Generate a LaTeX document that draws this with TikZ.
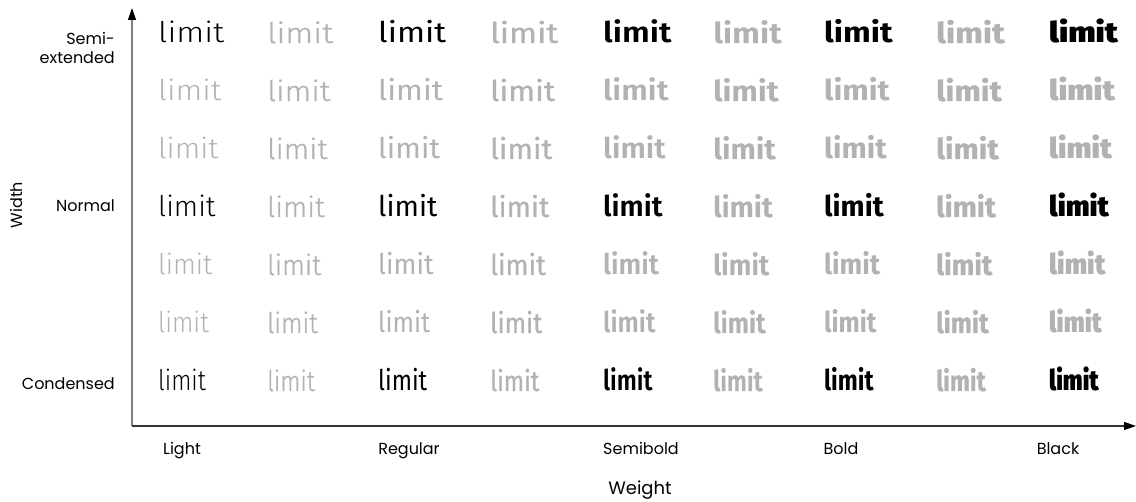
\documentclass[tikz,border=0pt]{standalone}
\usepackage{fontspec}
\usetikzlibrary{arrows.meta}
\setmainfont{Poppins}
% one face per step of weight, in-between steps are thickened
\newcommand\pickface[3]{\IfFontExistsTF{#2}{\newfontfamily#1{#2}[FakeBold=#3]}{\newfontfamily#1{Fira Sans}[FakeBold=#3]}}
\pickface\wta{Fira Sans Light}{0}
\pickface\wtb{Fira Sans Light}{0.7}
\pickface\wtc{Fira Sans}{0}
\pickface\wtd{Fira Sans}{0.8}
\pickface\wte{Fira Sans SemiBold}{0}
\pickface\wtf{Fira Sans SemiBold}{0.8}
\pickface\wtg{Fira Sans Bold}{0}
\pickface\wth{Fira Sans Bold}{0.9}
\pickface\wti{Fira Sans Black}{0}
\definecolor{dimgray}{gray}{0.70}

\begin{document}
\begin{tikzpicture}[x=1pt,y=-1pt,
  word/.style={anchor=base west,inner sep=0pt,font=\fontsize{28.5}{28.5}\selectfont},
  lbl/.style={inner sep=0pt,font=\fontsize{16}{19}\selectfont},
  axis/.style={line width=1.2pt,-{Triangle[length=12pt,width=8pt,black]}}]
\useasboundingbox (0,0) rectangle (1136,502);

% axes
\coordinate (o) at (132,426);
\coordinate (ytip) at (132,8);
\coordinate (xtip) at (1136,426);
\draw[axis,color=black!50] (o) -- (ytip);
\draw[axis,color=black!80] (o) -- (xtip);

% the grid of samples
\foreach \r/\y/\s/\k in {1/43/1.15/1,2/101/1.10/0,3/159/1.05/0,4/217/1.0/1,5/275/0.94/0,6/333/0.88/0,7/391/0.83/1}{
  \foreach \c/\x/\f in {1/158/\wta,2/267/\wtb,3/378/\wtc,4/490/\wtd,5/603/\wte,6/713/\wtf,7/824/\wtg,8/936/\wth,9/1049/\wti}{
    \pgfmathtruncatemacro\hl{and(\k==1,mod(\c,2)==1)}
    \ifnum\hl=1 \def\wcol{black}\else\def\wcol{dimgray}\fi
    \node[word,text=\wcol] (w-\r-\c) at (\x,\y) {\scalebox{\s}[1]{\f limit}};
  }
}

% width labels
\node[lbl,anchor=base east,align=right] (semi) at (115,64) {Semi-\\extended};
\node[lbl,anchor=base east] (normal) at (115,212) {Normal};
\node[lbl,anchor=base east] (cond) at (115,390) {Condensed};
\node[lbl,rotate=90,font=\fontsize{16}{16}\selectfont] (width) at (16,205) {Width};

% weight labels
\node[lbl,anchor=base] (light) at (182,455) {Light};
\node[lbl,anchor=base] (regular) at (409,455) {Regular};
\node[lbl,anchor=base] (semibold) at (641,455) {Semibold};
\node[lbl,anchor=base] (bold) at (841,455) {Bold};
\node[lbl,anchor=base] (black) at (1058,455) {Black};
\node[lbl,anchor=base,font=\fontsize{18}{18}\selectfont] (weight) at (640,495) {Weight};

\end{tikzpicture}
\end{document}
